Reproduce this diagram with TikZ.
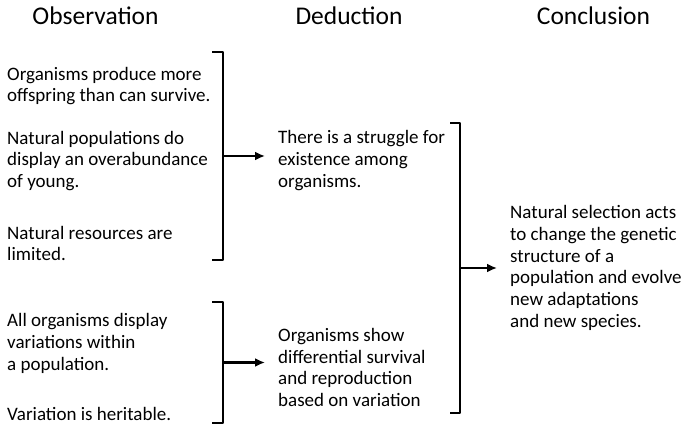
\documentclass[tikz,border=0pt]{standalone}
\usepackage{fontspec}
\setmainfont{Carlito}
\usetikzlibrary{arrows.meta}

\begin{document}
\begin{tikzpicture}[x=1pt,y=-1pt,
  head/.style={anchor=base, inner sep=0pt, font=\fontsize{25.5}{30}\selectfont},
  txt/.style={anchor=west, inner sep=0pt, align=left, font=\fontsize{19}{21.8}\selectfont},
  brk/.style={line width=2.6pt, line join=round},
  arr/.style={line width=2.6pt, -{Latex[length=10pt,width=9pt]}, shorten >=13pt}]
  \useasboundingbox (0,0) rectangle (684,427);
  % column titles
  \node[head] (hobs) at (95.5,25) {Observation};
  \node[head] (hded) at (349,25) {Deduction};
  \node[head] (hcon) at (593.5,25) {Conclusion};
  % observations
  \node[txt] (obs1) at (7,86) {Organisms produce more\\offspring than can survive.};
  \node[txt] (obs2) at (7,161) {Natural populations do\\display an overabundance\\of young.};
  \node[txt] (obs3) at (7,243.5) {Natural resources are\\limited.};
  \node[txt] (obs4) at (7,343.5) {All organisms display\\variations within\\a population.};
  \node[txt] (obs5) at (7,413.5) {Variation is heritable.};
  % deductions
  \node[txt] (ded1) at (278,160.5) {There is a struggle for\\existence among\\organisms.};
  \node[txt] (ded2) at (278,367.5) {Organisms show\\differential survival\\and reproduction\\based on variation};
  % conclusion
  \node[txt] (con) at (510,268) {Natural selection acts\\to change the genetic\\structure of a\\population and evolve\\new adaptations\\and new species.};
  % brackets
  \draw[brk] (212,52) -- (223,52) -- (223,260) -- (212,260);
  \coordinate (b1) at (223,156);
  \draw[brk] (212,302) -- (223,302) -- (223,423) -- (212,423);
  \coordinate (b2) at (223,362.5);
  \draw[brk] (450,123) -- (460,123) -- (460,413) -- (450,413);
  \coordinate (b3) at (460,268);
  % arrows
  \draw[arr] (b1) -- (b1 -| ded1.west);
  \draw[arr] (b2) -- (b2 -| ded2.west);
  \draw[arr] (b3) -- (b3 -| con.west);
\end{tikzpicture}
\end{document}
